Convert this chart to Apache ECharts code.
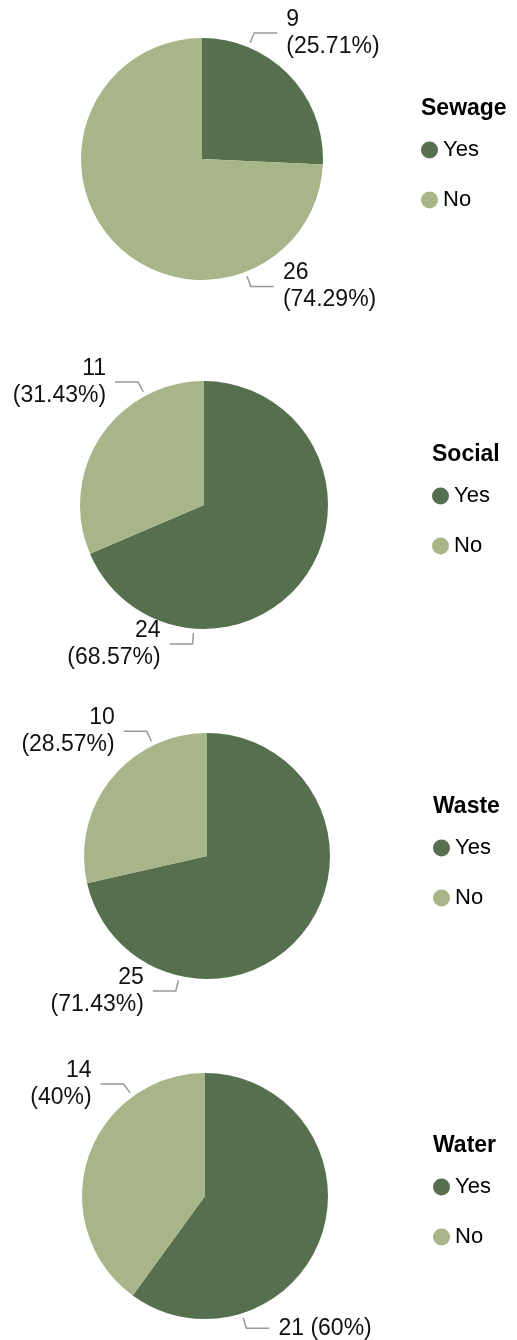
<!DOCTYPE html>
<html>
<head>
<meta charset="utf-8">
<script src="https://cdn.jsdelivr.net/npm/echarts@6/dist/echarts.min.js"></script>
<style>
  html, body { margin: 0; padding: 0; background: #fff; }
  #chart { width: 517px; height: 1340px; }
</style>
</head>
<body>
<div id="chart"></div>
<script>
// Survey answers per topic
const groups = ['Sewage', 'Social', 'Waste', 'Water'];
const answers = ['Yes', 'No'];
const yesCounts = [9, 24, 25, 21];
const noCounts = [26, 11, 10, 14];

const COLORS = ['#56704f', '#a8b588'];
const FONT = "'Liberation Sans', Arial, Helvetica, sans-serif";

// Panel geometry: pie centre / radius, legend block position, and the angle
// (degrees, counter-clockwise from 3 o'clock) where each slice's callout leaves the rim.
const panels = [
  { center: [202, 159],  radius: 121, legendX: 421, titleY: 109,  calloutAngles: [67.5, -69],   inline: [false, false] },
  { center: [204, 505],  radius: 124, legendX: 432, titleY: 455,  calloutAngles: [-94.7, 118.2], inline: [false, false] },
  { center: [207, 856],  radius: 123, legendX: 433, titleY: 807,  calloutAngles: [-103, 115.8],  inline: [false, false] },
  { center: [205, 1196], radius: 123, legendX: 433, titleY: 1146, calloutAngles: [-72.6, 126],   inline: [true, false] }
];

const CALLOUT = { rimGap: 4.5, radial: 11, horizontal: 23, textGap: 9 };

function calloutLayout(params) {
  const p = panels[params.seriesIndex];
  const a = p.calloutAngles[params.dataIndex] * Math.PI / 180;
  const ux = Math.cos(a), uy = -Math.sin(a);
  const side = ux >= 0 ? 1 : -1;
  const r0 = p.radius + CALLOUT.rimGap;
  const start = [p.center[0] + ux * r0, p.center[1] + uy * r0];
  const elbow = [start[0] + ux * CALLOUT.radial, start[1] + uy * CALLOUT.radial];
  const end = [elbow[0] + side * CALLOUT.horizontal, elbow[1]];
  return {
    x: end[0] + side * CALLOUT.textGap,
    y: elbow[1],
    align: side > 0 ? 'left' : 'right',
    verticalAlign: 'middle',
    labelLinePoints: [start, elbow, end]
  };
}

function labelText(params) {
  const inline = panels[params.seriesIndex].inline[params.dataIndex];
  return params.value + (inline ? ' ' : '\n') + '(' + params.percent + '%)';
}

const chart = echarts.init(document.getElementById('chart'), null, { renderer: 'canvas' });

const option = {
  animation: false,
  color: COLORS,
  textStyle: { fontFamily: FONT },
  title: groups.map((g, i) => ({
    text: g,
    left: panels[i].legendX,
    top: panels[i].titleY - 13,
    padding: 0,
    textStyle: { fontSize: 23, fontWeight: 'bold', color: '#000', fontFamily: FONT, lineHeight: 26 }
  })),
  legend: groups.map((g, i) => ({
    data: answers,
    orient: 'vertical',
    left: panels[i].legendX,
    top: panels[i].titleY + 41 - 11,
    padding: 0,
    icon: 'circle',
    itemWidth: 17,
    itemHeight: 17,
    itemGap: 28,
    selectedMode: false,
    textStyle: { fontSize: 22, lineHeight: 22, color: '#000', fontFamily: FONT }
  })),
  series: groups.map((g, i) => ({
    type: 'pie',
    name: g,
    center: panels[i].center,
    radius: panels[i].radius,
    startAngle: 90,
    clockwise: true,
    silent: true,
    emphasis: { disabled: true },
    itemStyle: { borderWidth: 0 },
    data: [
      { name: answers[0], value: yesCounts[i] },
      { name: answers[1], value: noCounts[i] }
    ],
    label: {
      show: true,
      position: 'outside',
      formatter: labelText,
      fontSize: 23,
      lineHeight: 27,
      color: '#111',
      fontFamily: FONT,
      overflow: 'none'
    },
    labelLine: {
      show: true,
      length: CALLOUT.radial,
      length2: CALLOUT.horizontal,
      lineStyle: { color: '#999', width: 1.5 }
    },
    labelLayout: calloutLayout
  }))
};

chart.setOption(option);
</script>
</body>
</html>
